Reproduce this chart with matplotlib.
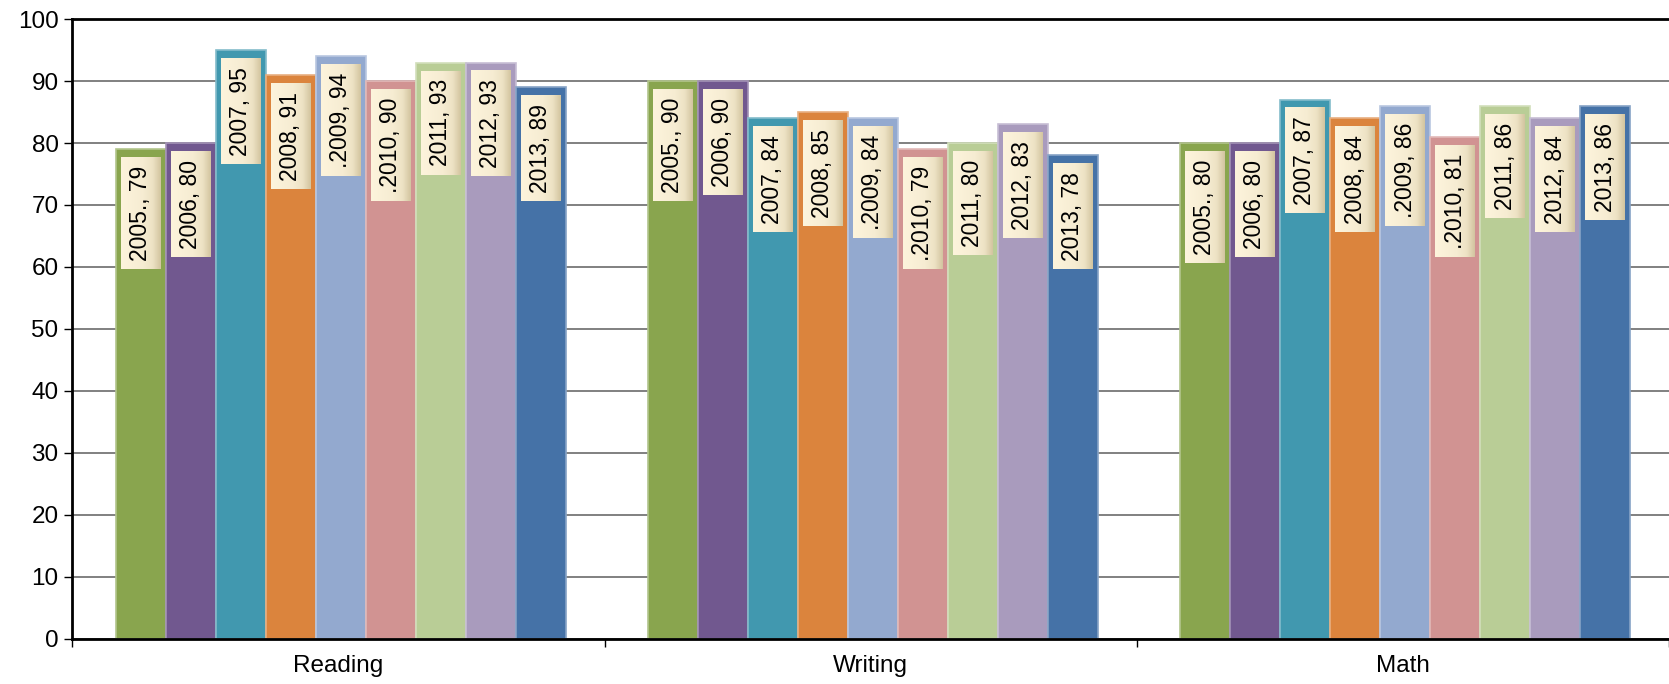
import matplotlib
matplotlib.use("Agg")
import matplotlib.pyplot as plt
from matplotlib.colors import LinearSegmentedColormap
import numpy as np

categories = ["Reading", "Writing", "Math"]
years = ["2005.", "2006", "2007", "2008", ".2009", ".2010", "2011", "2012", "2013"]
reading = [79, 80, 95, 91, 94, 90, 93, 93, 89]
writing = [90, 90, 84, 85, 84, 79, 80, 83, 78]
math_ = [80, 80, 87, 84, 86, 81, 86, 84, 86]
colors = ["#89A54E", "#71588F", "#4198AF", "#DB843D", "#93A9CF",
          "#D19392", "#B9CD96", "#A99BBD", "#4572A7"]

plt.rcParams["font.family"] = ["Liberation Sans", "DejaVu Sans"]

values = np.array([reading, writing, math_])  # shape (3 categories, 9 years)

fig = plt.figure(figsize=(16.69, 6.84), dpi=100)
ax = fig.add_axes([0.0434, 0.0664, 0.9566, 0.9056])

n = len(years)
bw = 0.094
x = np.arange(len(categories))


def lighten(c, f=0.35):
    rgb = np.array(matplotlib.colors.to_rgb(c))
    return tuple(rgb + (1 - rgb) * f)


texts = []
for i, y in enumerate(years):
    pos = x + (i - (n - 1) / 2) * bw + 0.004
    vals = values[:, i]
    ax.bar(pos, vals, width=bw, color=colors[i], edgecolor=lighten(colors[i]),
           linewidth=1.2, zorder=3)
    for p, v in zip(pos, vals):
        t = ax.annotate(f"{y}, {v}", xy=(p, v), xytext=(0, -12), textcoords="offset points",
                        rotation=90, ha="center", va="top", fontsize=16.5, zorder=5,
                        bbox=dict(boxstyle="square,pad=0.36", facecolor="#F4EBD0",
                                  edgecolor="none"))
        texts.append(t)

ax.set_xlim(-0.5, 2.5)
ax.set_ylim(0, 100)
ax.set_yticks(np.arange(0, 101, 10))
ax.tick_params(axis="y", labelsize=17.5, length=6, width=1, direction="out", pad=4)
ax.set_xticks([-0.5, 0.5, 1.5, 2.5])
ax.set_xticklabels([])
ax.set_xticks(x, minor=True)
ax.set_xticklabels(categories, minor=True, fontsize=17.5)
ax.tick_params(axis="x", which="major", length=6, width=1, direction="out")
ax.tick_params(axis="x", which="minor", length=0, pad=12)

ax.yaxis.grid(True, color="#808080", linewidth=1.4, zorder=0)
ax.set_axisbelow(True)
for s in ["left", "bottom", "top"]:
    ax.spines[s].set_color("black")
    ax.spines[s].set_linewidth(2)
    ax.spines[s].set_zorder(6)
ax.spines["right"].set_visible(False)

# gradient label boxes
fig.canvas.draw()
cmap = LinearSegmentedColormap.from_list(
    "cream", [(0, "#FDF4DC"), (0.55, "#F6ECD2"), (0.8, "#EDE2C4"), (1, "#D3C5A0")])
grad = np.linspace(0, 1, 64).reshape(1, -1)
inv = ax.transData.inverted()
for t in texts:
    bb = t.get_bbox_patch().get_window_extent()
    (x0, y0), (x1, y1) = inv.transform([[bb.x0, bb.y0], [bb.x1, bb.y1]])
    ax.imshow(grad, cmap=cmap, extent=(x0, x1, y0, y1), aspect="auto",
              interpolation="bilinear", zorder=4)
    t.set_bbox(None)
ax.set_xlim(-0.5, 2.5)
ax.set_ylim(0, 100)

fig.savefig("out.png", dpi=100)
